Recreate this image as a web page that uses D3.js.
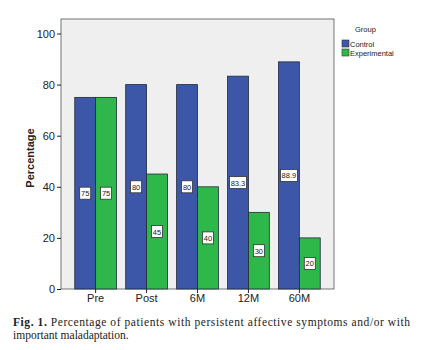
<!DOCTYPE html>
<head>
    <style>
        body { margin: 0; background: #fff; }
        svg { display: block; }
        .axis text { font-family: 'Liberation Sans', Arial, sans-serif; font-size: 11px; fill: #222; }
        .axis path, .axis line { stroke: #222; }
        .caption { font-family: 'Liberation Serif', 'DejaVu Serif', serif; font-size: 11.5px; fill: #222; }
        .legend text { fill: #222; }
    </style>
</head>
<body>
    <script src="https://d3js.org/d3.v7.min.js"></script>
    <script>
        var categories = ['Pre', 'Post', '6M', '12M', '60M'];
        var groups = ['Control', 'Experimental'];
        var control = [75, 80, 80, 83.3, 88.9];
        var experimental = [75, 45, 40, 30, 20];
        var y_ticks = [0, 20, 40, 60, 80, 100];
        var colors = ['#3d57a8', '#2fb84a'];

        var plot = {left: 61, right: 334, top: 19, bottom: 289};

        var svg = d3.select('body')
                    .append('svg')
                    .attr('width', 423)
                    .attr('height', 350);

        var x_scale = d3.scaleBand()
                        .domain(categories)
                        .range([plot.left, plot.right])
                        .paddingInner(0.18)
                        .paddingOuter(0.27);
        var x_inner = d3.scaleBand()
                        .domain(groups)
                        .range([0, x_scale.bandwidth()]);
        var y_scale = d3.scaleLinear()
                        .domain([0, 100])
                        .range([plot.bottom, 33.5]);

        // plot background
        svg.append('rect')
           .attr('x', plot.left)
           .attr('y', plot.top)
           .attr('width', plot.right - plot.left)
           .attr('height', plot.bottom - plot.top)
           .attr('fill', '#efefef')
           .attr('stroke', '#555')
           .attr('stroke-width', 0.8);

        var rows = categories.map((c, i) => ({cat: c, vals: [control[i], experimental[i]]}));

        var grp = svg.selectAll('g.grp')
                     .data(rows)
                     .enter()
                     .append('g')
                     .attr('class', 'grp')
                     .attr('transform', d => 'translate(' + x_scale(d.cat) + ',0)');

        var bars = grp.selectAll('g.bar')
                      .data(d => d.vals.map((v, j) => ({v: v, g: groups[j], j: j})))
                      .enter()
                      .append('g')
                      .attr('class', 'bar');

        bars.append('rect')
            .attr('x', d => x_inner(d.g))
            .attr('y', d => y_scale(d.v))
            .attr('width', x_inner.bandwidth())
            .attr('height', d => y_scale(0) - y_scale(d.v))
            .attr('fill', d => colors[d.j])
            .attr('stroke', '#1f2a3a')
            .attr('stroke-width', 0.8);

        // value labels
        bars.each(function(d) {
            var g = d3.select(this);
            var label = String(d.v);
            var cx = x_inner(d.g) + x_inner.bandwidth() / 2;
            var cy = y_scale(d.v / 2);
            var w = label.length > 2 ? 17 : 11;
            g.append('rect')
             .attr('x', cx - w / 2)
             .attr('y', cy - 6)
             .attr('width', w)
             .attr('height', 12)
             .attr('fill', '#fff')
             .attr('stroke', '#333')
             .attr('stroke-width', 0.8);
            g.append('text')
             .attr('x', cx)
             .attr('y', cy + 3)
             .attr('text-anchor', 'middle')
             .attr('font-family', 'Liberation Sans, Arial, sans-serif')
             .attr('font-size', 7.5)
             .attr('fill', '#222')
             .text(label);
        });

        // axes
        svg.append('g')
           .attr('class', 'axis')
           .attr('transform', 'translate(' + plot.left + ',0)')
           .call(d3.axisLeft(y_scale).tickValues(y_ticks).tickSize(4).tickPadding(2))
           .call(g => g.select('.domain').remove());

        svg.append('g')
           .attr('class', 'axis')
           .attr('transform', 'translate(0,' + plot.bottom + ')')
           .call(d3.axisBottom(x_scale).tickSize(4).tickPadding(1).tickSizeOuter(0))
           .call(g => g.select('.domain').remove());

        svg.append('text')
           .attr('transform', 'translate(34,' + ((plot.top + plot.bottom) / 2 + 4) + ') rotate(-90)')
           .attr('text-anchor', 'middle')
           .attr('font-family', 'Liberation Sans, Arial, sans-serif')
           .attr('font-size', 11)
           .attr('font-weight', 'bold')
           .attr('fill', '#222')
           .text('Percentage');

        // legend
        var legend = svg.append('g')
                        .attr('class', 'legend')
                        .attr('font-family', 'Liberation Sans, Arial, sans-serif')
                        .attr('font-size', 7.5);
        legend.append('text')
              .attr('x', 355)
              .attr('y', 32)
              .text('Group');
        var item = legend.selectAll('g.item')
                         .data(groups)
                         .enter()
                         .append('g')
                         .attr('class', 'item')
                         .attr('transform', (d, i) => 'translate(342,' + (40 + i * 9) + ')');
        item.append('rect')
            .attr('width', 7)
            .attr('height', 7)
            .attr('fill', (d, i) => colors[i])
            .attr('stroke', '#333')
            .attr('stroke-width', 0.6);
        item.append('text')
            .attr('x', 8)
            .attr('y', 6.5)
            .text(d => d);

        // caption
        var cap = svg.append('text')
                     .attr('class', 'caption')
                     .attr('x', 13)
                     .attr('y', 326)
                     .attr('textLength', 397)
                     .attr('lengthAdjust', 'spacing');
        cap.append('tspan').attr('font-weight', 'bold').text('Fig. 1. ');
        cap.append('tspan').text('Percentage of patients with persistent affective symptoms and/or with');
        svg.append('text')
           .attr('class', 'caption')
           .attr('x', 13)
           .attr('y', 339)
           .text('important maladaptation.');
    </script>
</body>
